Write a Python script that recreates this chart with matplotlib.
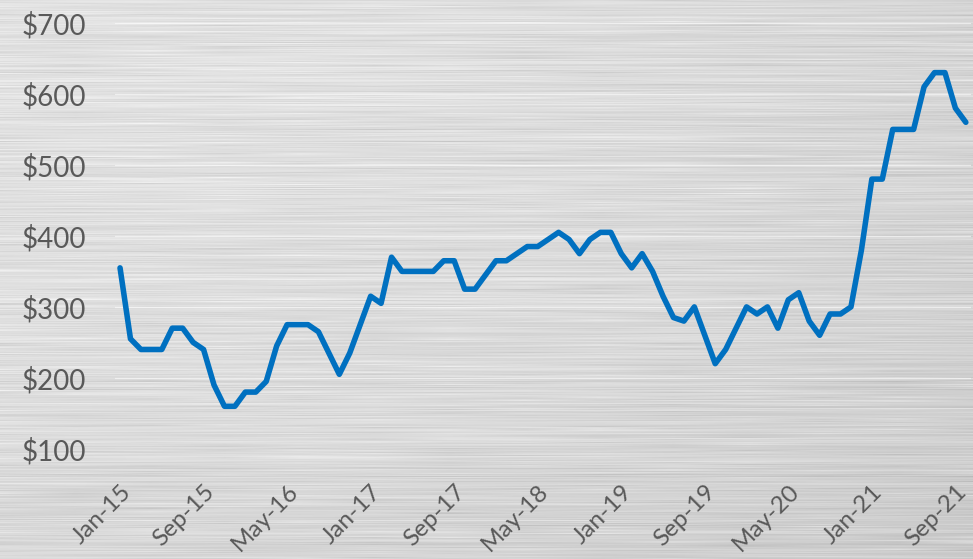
import numpy as np
import pandas as pd
import matplotlib.pyplot as plt

plt.rcParams['font.family'] = ['Lato', 'DejaVu Sans']

# monthly price, Jan-15 .. Oct-21
prices = [355, 255, 240, 240, 240, 270, 270, 250, 240, 190, 160, 160,   # 2015
          180, 180, 195, 245, 275, 275, 275, 265, 235, 205, 235, 275,   # 2016
          315, 305, 370, 350, 350, 350, 350, 365, 365, 325, 325, 345,   # 2017
          365, 365, 375, 385, 385, 395, 405, 395, 375, 395, 405, 405,   # 2018
          375, 355, 375, 350, 315, 285, 280, 300, 260, 220, 240, 270,   # 2019
          300, 290, 300, 270, 310, 320, 280, 260, 290, 290, 300, 380,   # 2020
          480, 480, 550, 550, 550, 610, 630, 630, 580, 560]             # 2021
months = pd.date_range('2015-01-01', periods=len(prices), freq='MS').strftime('%b-%y')
tick_every = 8
yticks = [100, 200, 300, 400, 500, 600, 700]

line_color = '#0070C0'
text_color = '#595959'

W, H = 973, 559
fig = plt.figure(figsize=(W / 100, H / 100), dpi=100)

# brushed-metal backdrop: horizontal streaks over a soft gradient
rng = np.random.default_rng(11)
coarse = rng.normal(0, 1, (H, 14))
xs = np.linspace(0, 13, W)
streaks = np.array([np.interp(xs, np.arange(14), r) for r in coarse])
fine = rng.normal(0, 1, (H, 1))
xx, yy = np.meshgrid(np.linspace(0, 1, W), np.linspace(0, 1, H))
base = 0.885 - 0.05 * xx ** 2 - 0.04 * yy ** 2
tex = base + 0.02 * streaks + 0.014 * fine
tex = np.clip(tex, 0, 1)
bg = fig.add_axes([0, 0, 1, 1], zorder=0)
bg.imshow(np.dstack([tex] * 3), aspect='auto', interpolation='bilinear')
bg.axis('off')

ax = fig.add_axes([0.118, 0.197, 0.880, 0.762], zorder=1)
ax.patch.set_alpha(0)

x = np.arange(len(prices))
ax.plot(x, prices, color=line_color, lw=4.0, solid_joinstyle='round',
        solid_capstyle='round', zorder=3)

ax.set_xlim(-0.5, len(prices) - 0.5)
ax.set_ylim(100, 700)
ax.set_yticks(yticks)
ax.set_yticklabels(['$%d' % v for v in yticks])
ax.yaxis.grid(True, color='white', alpha=0.55, lw=0.9)
ax.set_axisbelow(True)

ax.set_xticks(x[::tick_every])
ax.set_xticklabels(months[::tick_every], rotation=45, ha='right',
                   rotation_mode='anchor')

ax.tick_params(axis='y', length=0, pad=21, labelsize=20, labelcolor=text_color)
ax.tick_params(axis='x', length=0, pad=23, labelsize=17.5, labelcolor=text_color)
for s in ax.spines.values():
    s.set_visible(False)

plt.savefig('out.png', dpi=100)
